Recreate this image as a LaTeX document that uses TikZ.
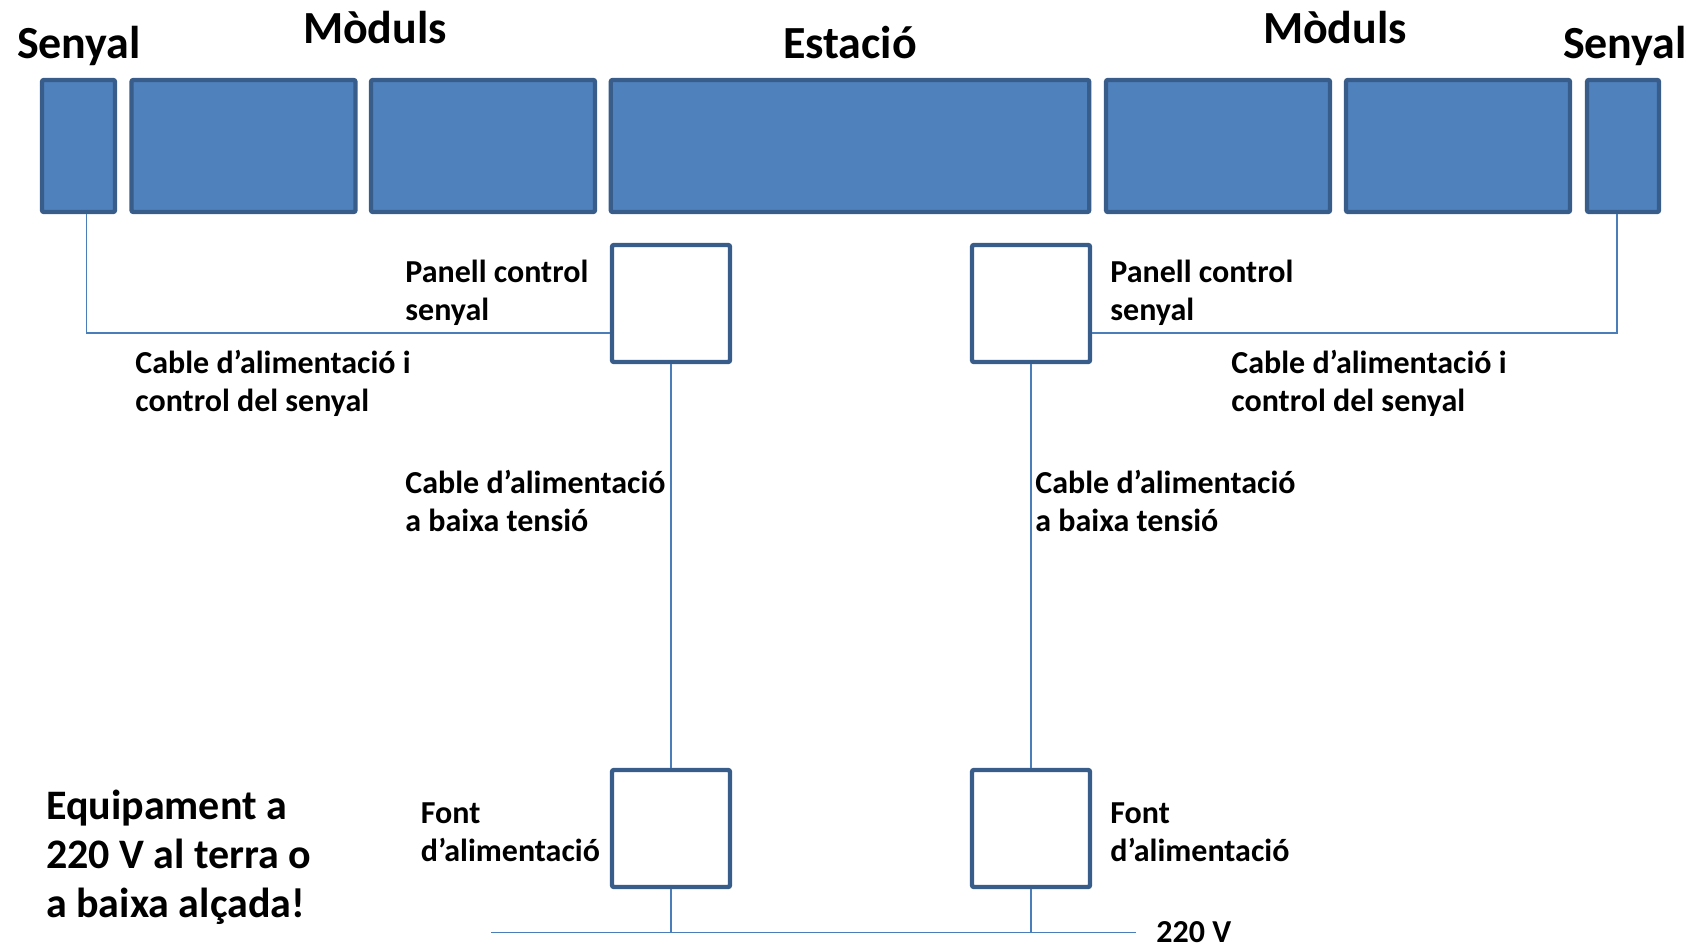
\documentclass[tikz,border=0pt]{standalone}
\usepackage{fontspec}
\setmainfont{Carlito}
\usetikzlibrary{calc}
\definecolor{modblue}{RGB}{79,129,189}
\definecolor{edgeblue}{RGB}{56,93,138}
\definecolor{wireblue}{RGB}{74,126,187}

\begin{document}
\begin{tikzpicture}[x=0.5pt,y=-0.5pt]
    % Define styles
    \tikzstyle{module} = [rectangle, draw=edgeblue, fill=modblue, line width=2.2pt, rounded corners=1pt, inner sep=0pt, minimum height=66pt]
    \tikzstyle{panel} = [rectangle, draw=edgeblue, fill=white, line width=2.2pt, rounded corners=1pt, inner sep=0pt, minimum width=59pt, minimum height=58.5pt]
    \tikzstyle{wire} = [draw=wireblue, line width=0.75pt]
    \tikzstyle{heading} = [anchor=base, font=\bfseries\fontsize{23}{28}\selectfont, inner sep=0pt]
    \tikzstyle{labeltext} = [anchor=base west, align=left, font=\bfseries\fontsize{16}{19}\selectfont, inner sep=0pt]

    \useasboundingbox (0,0) rectangle (1708,946);

    % Train row
    \node[module, minimum width=36.5pt] (sigL) at (78.5,146) {};
    \node[module, minimum width=112pt] (modA) at (243.5,146) {};
    \node[module, minimum width=112pt] (modB) at (483,146) {};
    \node[module, minimum width=239.25pt] (station) at (850,146) {};
    \node[module, minimum width=112pt] (modC) at (1218,146) {};
    \node[module, minimum width=112pt] (modD) at (1458,146) {};
    \node[module, minimum width=36pt] (sigR) at (1623,146) {};

    % Headings
    \node[heading] (hsigL) at (79,59) {Senyal};
    \node[heading] (hmodL) at (375,43.5) {Mòduls};
    \node[heading] (hstation) at (850,59) {Estació};
    \node[heading] (hmodR) at (1335,43.5) {Mòduls};
    \node[heading] (hsigR) at (1625,59) {Senyal};

    % Control panels and power supplies
    \node[panel] (panelL) at (671,303.5) {};
    \node[panel] (panelR) at (1031,303.5) {};
    \node[panel] (fontL) at (671,828.5) {};
    \node[panel] (fontR) at (1031,828.5) {};

    % Mains line
    \coordinate (busL) at (491,932.5);
    \coordinate (busR) at (1136,932.5);

    % Cables
    \draw[wire] ($(panelL.west)+(0,29.5)$) -| ($(sigL.south)+(8,0)$);
    \draw[wire] ($(panelR.east)+(0,29.5)$) -| ($(sigR.south)+(-6,0)$);
    \draw[wire] (panelL) -- (fontL);
    \draw[wire] (panelR) -- (fontR);
    \draw[wire] (busL) -- (busR);
    \draw[wire] (fontL.south) -- (fontL |- busL);
    \draw[wire] (fontR.south) -- (fontR |- busL);

    % Labels (placed at the baseline of their last line)
    \node[labeltext] (lpanelL) at (405,321) {Panell control\\senyal};
    \node[labeltext] (lpanelR) at (1110,321) {Panell control\\senyal};
    \node[labeltext] (lsigL) at (135,411.5) {Cable d’alimentació i\\control del senyal};
    \node[labeltext] (lsigR) at (1231,411.5) {Cable d’alimentació i\\control del senyal};
    \node[labeltext] (lpowL) at (405,531.5) {Cable d’alimentació\\a baixa tensió};
    \node[labeltext] (lpowR) at (1035,531.5) {Cable d’alimentació\\a baixa tensió};
    \node[labeltext] (lfontL) at (420.5,861) {Font\\d’alimentació};
    \node[labeltext] (lfontR) at (1110,861) {Font\\d’alimentació};
    \node[labeltext] (lmains) at (1156,942) {220 V};
    \node[labeltext, font=\bfseries\fontsize{21}{24.5}\selectfont] (warning) at (45.8,917) {Equipament a\\220 V al terra o\\a baixa alçada!};

\end{tikzpicture}
\end{document}
